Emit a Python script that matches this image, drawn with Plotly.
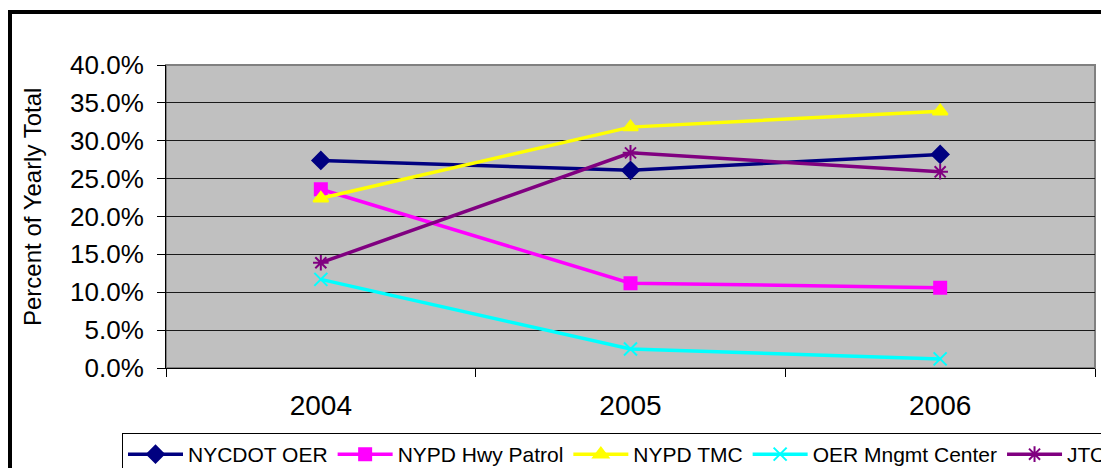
import plotly.graph_objects as go

years = ["2004", "2005", "2006"]
nycdot_oer = [0.274, 0.261, 0.282]
nypd_hwy_patrol = [0.236, 0.112, 0.106]
nypd_tmc = [0.224, 0.318, 0.339]
oer_mngmt_center = [0.117, 0.025, 0.012]
jtoc = [0.139, 0.284, 0.259]

series_names = ["NYCDOT OER", "NYPD Hwy Patrol", "NYPD TMC", "OER Mngmt Center", "JTOC"]
series_values = [nycdot_oer, nypd_hwy_patrol, nypd_tmc, oer_mngmt_center, jtoc]
colors = ["#000080", "#FF00FF", "#FFFF00", "#00FFFF", "#800080"]
symbols = ["diamond", "square", "triangle-up", "x-thin-open", "asterisk-open"]
sizes = [13, 12, 13, 13, 13]

OFF = 8  # browser default body margin
W, H = 1109 - OFF, 468 - OFF
L, R, T, B = 166 - OFF, 1095 - OFF, 65 - OFF, 368 - OFF
pw, ph = R - L, B - T


def px(x):
    return (x - OFF - L) / pw


def py(y):
    return (B - (y - OFF)) / ph


fig = go.Figure()
for name, vals, c, s, sz in zip(series_names, series_values, colors, symbols, sizes):
    fig.add_trace(go.Scatter(
        x=years, y=vals, name=name, mode="lines+markers",
        line=dict(color=c, width=3.5),
        marker=dict(symbol=s, size=sz, color=c, line=dict(color=c, width=2)),
    ))

font = "Liberation Sans, Arial, sans-serif"

fig.update_layout(
    width=W, height=H,
    margin=dict(l=L, r=W - R, t=T, b=H - B, autoexpand=False),
    paper_bgcolor="white",
    plot_bgcolor="#C0C0C0",
    font=dict(family=font, color="black"),
    showlegend=True,
    legend=dict(
        orientation="h", x=px(122), y=py(433), xanchor="left", yanchor="top",
        bordercolor="black", borderwidth=1, bgcolor="white",
        font=dict(size=21, family=font, color="black"),
        itemwidth=55, tracegroupgap=0,
    ),
    xaxis=dict(
        type="category", range=[-0.5, 2.5], tickson="boundaries",
        ticks="outside", ticklen=8, tickcolor="black", tickwidth=1,
        showline=True, linecolor="black", linewidth=1,
        showgrid=False, zeroline=False,
        tickfont=dict(size=28, family=font, color="black"),
        ticklabelstandoff=12,
    ),
    yaxis=dict(
        range=[0, 0.40], dtick=0.05, tickformat=".1%",
        ticks="outside", ticklen=8, tickcolor="black", tickwidth=1,
        showline=True, linecolor="black", linewidth=1,
        showgrid=True, gridcolor="#1a1a1a", gridwidth=1, zeroline=False,
        tickfont=dict(size=26, family=font, color="black"),
        ticklabelstandoff=8,
    ),
    shapes=[
        dict(type="rect", xref="paper", yref="paper", x0=0, x1=1, y0=0, y1=1,
             line=dict(color="#808080", width=2), layer="below"),
        dict(type="rect", xref="paper", yref="paper",
             x0=px(10), x1=px(1200), y0=py(600), y1=py(12),
             line=dict(color="black", width=4), fillcolor="rgba(0,0,0,0)"),
    ],
    annotations=[
        dict(text="Percent of Yearly Total", xref="paper", yref="paper",
             x=px(32), y=py(207), textangle=-90, showarrow=False,
             xanchor="center", yanchor="middle",
             font=dict(size=24, family=font, color="black")),
    ],
)

fig.write_html("out.html")
